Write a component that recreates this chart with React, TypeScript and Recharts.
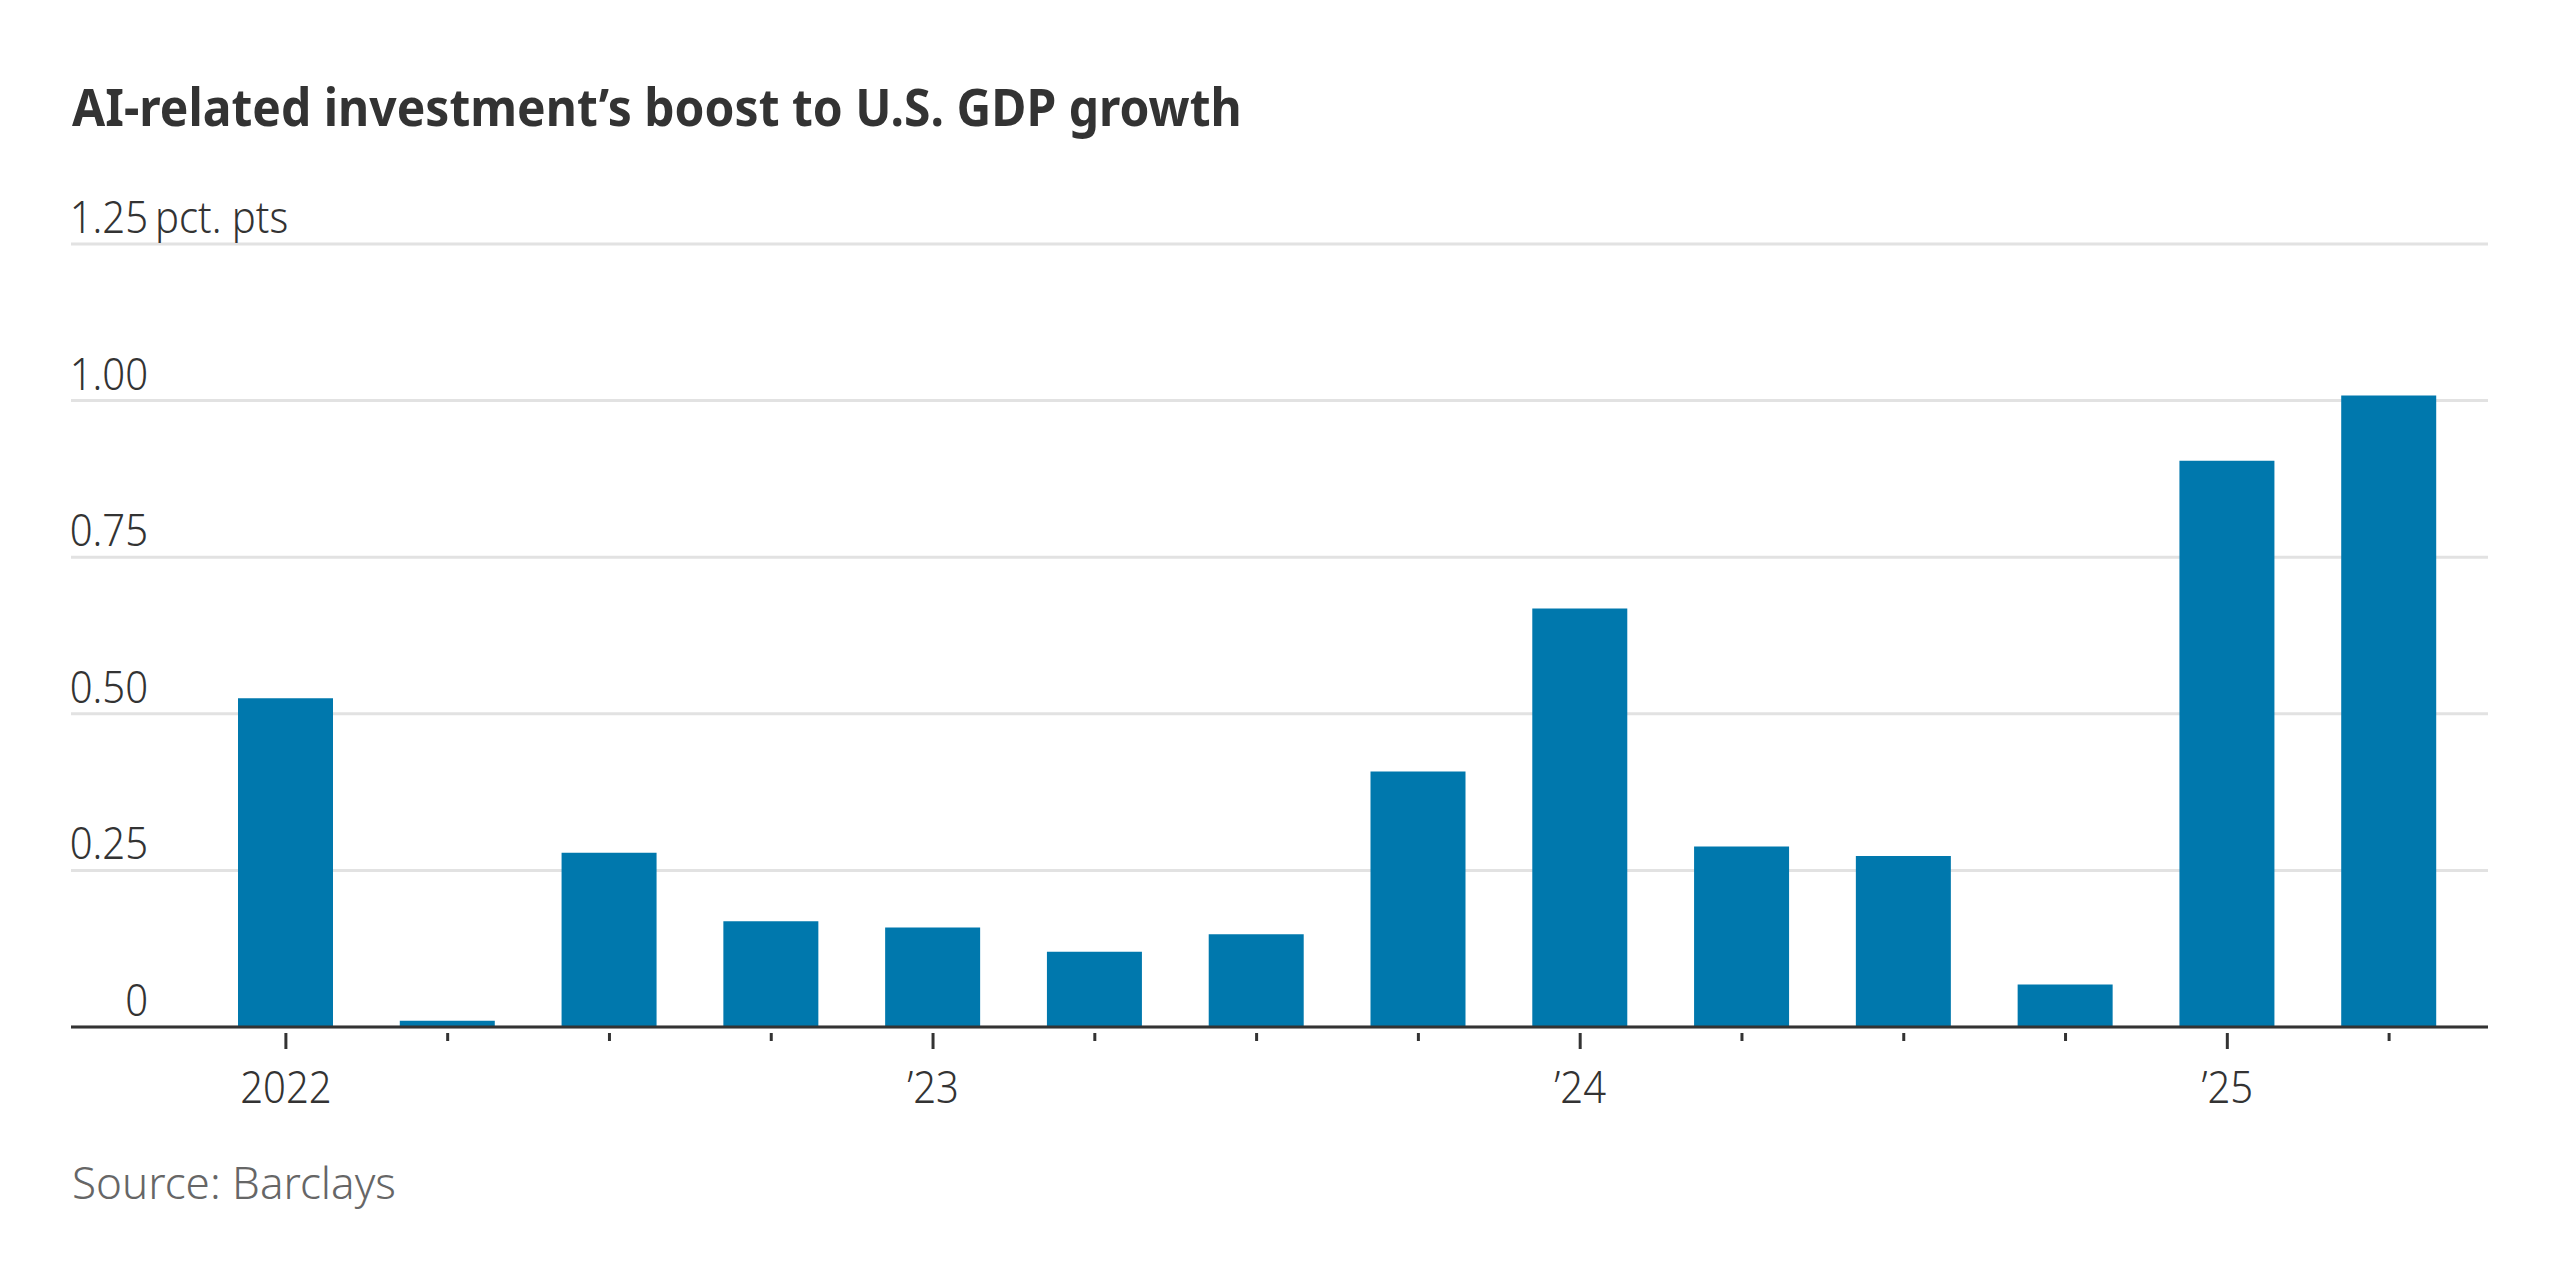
import { BarChart, Bar, XAxis, YAxis, CartesianGrid } from 'recharts';

const quarters = [
  'Q1 2022', 'Q2 2022', 'Q3 2022', 'Q4 2022',
  'Q1 2023', 'Q2 2023', 'Q3 2023', 'Q4 2023',
  'Q1 2024', 'Q2 2024', 'Q3 2024', 'Q4 2024',
  'Q1 2025', 'Q2 2025',
];
const boost = [0.525, 0.01, 0.278, 0.169, 0.159, 0.12, 0.148, 0.408, 0.668, 0.288, 0.273, 0.068, 0.904, 1.008];
const xTickLabels = ['2022', '', '', '', '’23', '', '', '', '’24', '', '', '', '’25', ''];
const yTicks = [0, 0.25, 0.5, 0.75, 1, 1.25];
const yTickLabels = ['0', '0.25', '0.50', '0.75', '1.00', '1.25'];

const data = quarters.map((q, i) => ({ quarter: q, value: boost[i], label: xTickLabels[i] }));

const FONT = "'Noto Sans', 'DejaVu Sans Condensed', sans-serif";
const INK = '#333333';
const BLUE = '#0078ad';

const Y_AXIS_W = 71;
const MR = 72;
const MT = 244;
const CHART_H = 1130;
const X_AXIS_H = 80;
const PLOT_BOTTOM = 1027;
const SQUEEZE = 0.91;

const textStyle = { fontStretch: 'condensed', fontWeight: 300 } as const;

// narrow text: WSJ uses a condensed face, so squeeze horizontally
const Narrow = ({ x, y, anchor, children }: any) => (
  <text
    transform={`translate(${x},${y}) scale(${SQUEEZE},1)`}
    textAnchor={anchor}
    fill={INK}
    fontSize={44}
    fontFamily={FONT}
    style={textStyle}
  >
    {children}
  </text>
);

const YTick = ({ y, payload }: any) => {
  const idx = yTicks.indexOf(payload.value);
  const label = yTickLabels[idx] ?? String(payload.value);
  const tx = Y_AXIS_W + 77;
  return (
    <g>
      <Narrow x={tx} y={y - 11} anchor="end">{label}</Narrow>
      {payload.value === 1.25 && (
        <Narrow x={tx + 7} y={y - 11} anchor="start">pct. pts</Narrow>
      )}
    </g>
  );
};

const XTick = ({ x, y, index }: any) => {
  const label = xTickLabels[index];
  const major = label !== '';
  return (
    <g>
      <line x1={x} x2={x} y1={y} y2={y + (major ? 16 : 8)} stroke={INK} strokeWidth={3} />
      {major && <Narrow x={x} y={y + 70} anchor="middle">{label}</Narrow>}
    </g>
  );
};

export default function App() {
  return (
    <div style={{ position: 'absolute', left: 0, top: 0, width: 2560, height: 1280, background: '#fff' }}>
      <div
        style={{
          position: 'absolute',
          left: 72,
          top: 80,
          fontFamily: FONT,
          fontWeight: 700,
          fontStretch: 'condensed',
          fontSize: 52,
          lineHeight: '52px',
          color: INK,
          whiteSpace: 'nowrap',
          transform: 'scaleX(0.923)',
          transformOrigin: 'left top',
        }}
      >
        AI-related investment’s boost to U.S. GDP growth
      </div>

      <div style={{ position: 'absolute', left: 0, top: 0 }}>
        <BarChart
          width={2560}
          height={CHART_H}
          data={data}
          margin={{ top: MT, right: MR, left: 0, bottom: CHART_H - X_AXIS_H - PLOT_BOTTOM }}
        >
          <CartesianGrid vertical={false} stroke="#e2e2e2" strokeWidth={3} />
          <YAxis
            domain={[0, 1.25]}
            ticks={yTicks}
            width={Y_AXIS_W}
            axisLine={false}
            tickLine={false}
            tick={<YTick />}
            interval={0}
          />
          <XAxis
            dataKey="quarter"
            height={X_AXIS_H}
            padding={{ left: 134, right: 18 }}
            axisLine={{ stroke: INK, strokeWidth: 3 }}
            tickLine={false}
            tickMargin={0}
            tick={<XTick />}
            interval={0}
          />
          <Bar dataKey="value" fill={BLUE} barSize={95} isAnimationActive={false} />
        </BarChart>
      </div>

      <div
        style={{
          position: 'absolute',
          left: 72,
          top: 1160,
          fontFamily: FONT,
          fontWeight: 300,
          fontStretch: 'condensed',
          fontSize: 44,
          lineHeight: '44px',
          color: '#666666',
          whiteSpace: 'nowrap',
        }}
      >
        Source: Barclays
      </div>
    </div>
  );
}
